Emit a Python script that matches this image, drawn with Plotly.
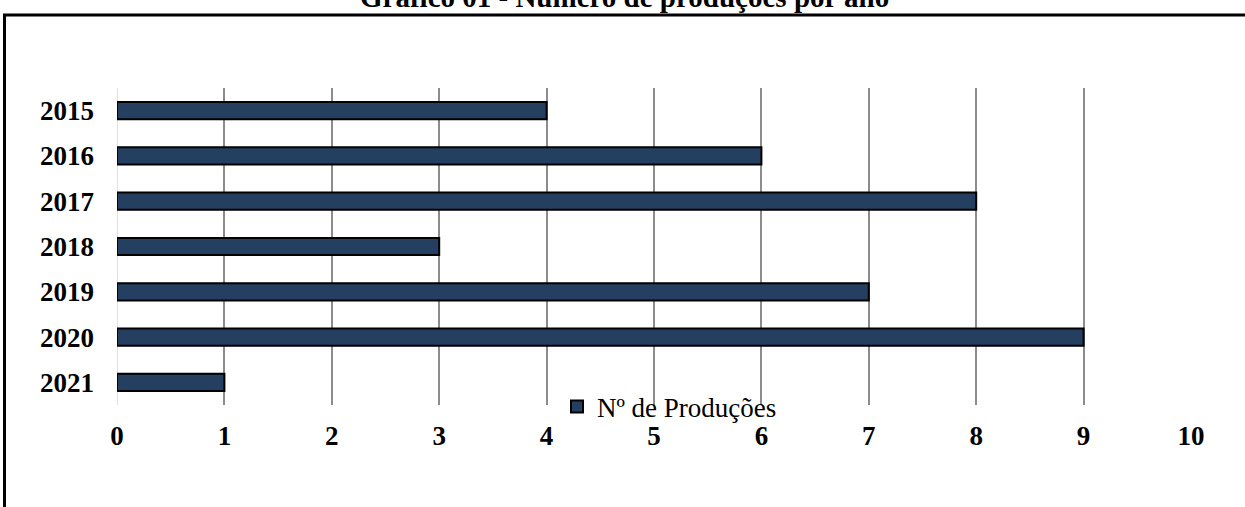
import plotly.graph_objects as go

years = ["2015", "2016", "2017", "2018", "2019", "2020", "2021"]
producoes = [4, 6, 8, 3, 7, 9, 1]
x_ticks = [0, 1, 2, 3, 4, 5, 6, 7, 8, 9, 10]

W, H = 1245, 507
L, R, T, B = 117, 1191, 88, 405  # plot area in pixels
pw, ph = R - L, B - T

def px(x):
    return (x - L) / pw

def py(y):
    return (B - y) / ph

fig = go.Figure()
fig.add_trace(go.Bar(
    y=years, x=producoes, orientation="h", name="Nº de Produções",
    marker=dict(color="#243F60", line=dict(color="black", width=2)),
    width=0.38, showlegend=True,
))

FONT = "Liberation Serif, Times New Roman, serif"
FS = 27

fig.update_layout(
    width=W, height=H,
    margin=dict(l=L, r=W - R, t=T, b=H - B, pad=0),
    paper_bgcolor="white", plot_bgcolor="white",
    font=dict(family=FONT, color="black"),
    xaxis=dict(range=[0, 10], tickvals=x_ticks, showgrid=True, gridcolor="#8c8c8c",
               gridwidth=1.5, zeroline=False, showline=False,
               tickfont=dict(family=FONT, size=FS, color="black", weight="bold"),
               ticklabelstandoff=12, fixedrange=True),
    yaxis=dict(categoryorder="array", categoryarray=years, autorange="reversed",
               showgrid=False, zeroline=False, showline=False,
               tickfont=dict(family=FONT, size=FS, color="black", weight="bold"),
               ticklabelstandoff=22),
    legend=dict(x=px(557), y=py(407), xanchor="left", yanchor="middle",
                orientation="h", bgcolor="rgba(0,0,0,0)",
                font=dict(family=FONT, size=FS, color="black"),
                itemwidth=30),
    showlegend=True,
    bargap=0.6,
)

# light zero gridline
fig.add_shape(type="line", xref="x", yref="paper", x0=0, x1=0, y0=0, y1=1,
              line=dict(color="#d9d9d9", width=1.5), layer="below")

# frame lines
fig.add_shape(type="line", xref="paper", yref="paper", x0=px(3), x1=px(1245), y0=py(15), y1=py(15),
              line=dict(color="black", width=3))
fig.add_shape(type="line", xref="paper", yref="paper", x0=px(4.5), x1=px(4.5), y0=py(15), y1=py(507),
              line=dict(color="black", width=3))

fig.add_annotation(text="Gráfico 01 - Número de produções por ano", xref="paper", yref="paper",
                   x=px(624), y=py(15), xanchor="center", yanchor="bottom", showarrow=False,
                   font=dict(family=FONT, size=29, color="black", weight="bold"))

fig.write_html("out.html")
